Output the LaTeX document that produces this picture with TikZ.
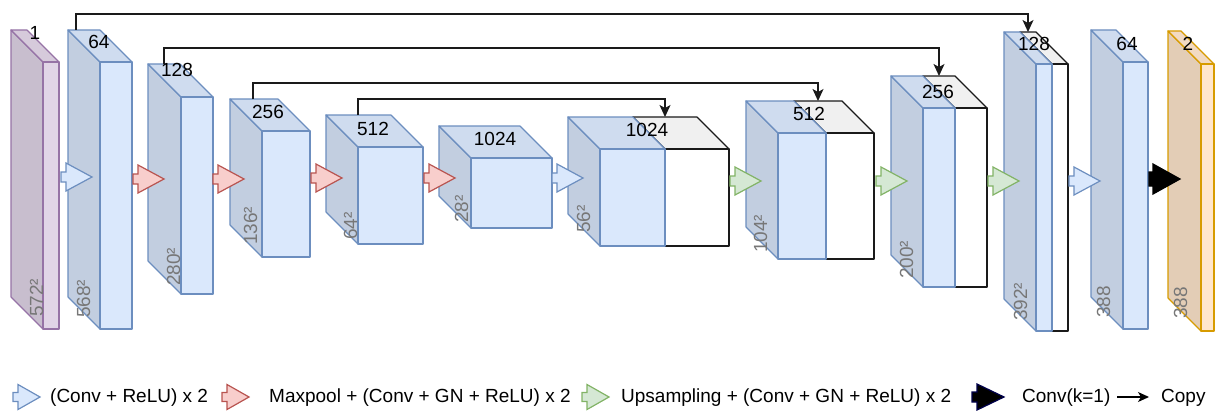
\documentclass[tikz,border=0pt]{standalone}
\usepackage{fontspec}
\setmainfont{Liberation Sans}
\usetikzlibrary{arrows.meta}
\definecolor{bfront}{HTML}{DAE8FC}
\definecolor{bstroke}{HTML}{6C8EBF}
\definecolor{pfront}{HTML}{E1D5E7}
\definecolor{pstroke}{HTML}{9673A6}
\definecolor{ofront}{HTML}{FFE6CC}
\definecolor{ostroke}{HTML}{D79B00}
\definecolor{rfill}{HTML}{F8CECC}
\definecolor{rstroke}{HTML}{B85450}
\definecolor{gfill}{HTML}{D5E8D4}
\definecolor{gstroke}{HTML}{82B366}
\definecolor{wtop}{HTML}{F0F0F0}
\definecolor{dimtext}{HTML}{777777}
\definecolor{lineblk}{HTML}{1A1A1A}
\newcommand{\ucube}[9]{%
  \filldraw[fill=#8,draw=#9,blk] (#1-#5,#2-#5) -- (#1,#2) -- (#1,#4) -- (#1-#5,#4-#5) -- cycle;
  \filldraw[fill=#7,draw=#9,blk] (#1-#5,#2-#5) -- (#3-#5,#2-#5) -- (#3,#2) -- (#1,#2) -- cycle;
  \filldraw[fill=#6,draw=#9,blk] (#1,#2) rectangle (#3,#4);
}
% fat arrow: tip x, tip y, fill, stroke
\newcommand{\farrow}[4]{%
  \filldraw[fill=#3,draw=#4,farr] (#1-31,#2-5) -- (#1-26,#2-5) -- (#1-26,#2-14) -- (#1,#2)
    -- (#1-26,#2+14) -- (#1-26,#2+5) -- (#1-31,#2+5) -- cycle;
}
% legend arrow: start x, y, fill, stroke
\newcommand{\larrow}[4]{%
  \filldraw[fill=#3,draw=#4,farr] (#1,#2-4.5) -- (#1+5,#2-4.5) -- (#1+5,#2-12.5) -- (#1+27,#2)
    -- (#1+5,#2+12.5) -- (#1+5,#2+4.5) -- (#1,#2+4.5) -- cycle;
}
\tikzset{
  blk/.style={line width=1.2pt, line join=round},
  farr/.style={line width=1.2pt, line join=miter},
  lab/.style={font=\fontsize{19}{22}\selectfont, inner sep=0pt, text=black},
  dimlab/.style={lab, text=dimtext, rotate=90, anchor=base west},
  skip/.style={line width=1.3pt, draw=lineblk, -{Stealth[length=12pt,width=11pt,inset=3pt]}},
}
\begin{document}
\begin{tikzpicture}[x=1pt,y=-1pt]
\useasboundingbox (0,0) rectangle (1215,412);
% encoder blocks
\ucube{43}{62}{59}{329}{32}{pfront}{pfront!95!black}{pfront!89!black}{pstroke}
\ucube{100}{62}{132}{329}{32}{bfront}{bfront!95!black}{bfront!89!black}{bstroke}
\ucube{181}{97}{213}{294}{33}{bfront}{bfront!95!black}{bfront!89!black}{bstroke}
\ucube{262}{131}{310}{257}{32}{bfront}{bfront!95!black}{bfront!89!black}{bstroke}
\ucube{358}{147}{423}{244}{32}{bfront}{bfront!95!black}{bfront!89!black}{bstroke}
\ucube{471}{158}{552}{228}{32}{bfront}{bfront!95!black}{bfront!89!black}{bstroke}
% decoder blocks (white concatenated part behind)
\ucube{665}{149}{729}{246}{32}{white}{wtop}{white}{lineblk}
\ucube{600}{149}{665}{246}{32}{bfront}{bfront!95!black}{bfront!89!black}{bstroke}
\ucube{826}{133}{874}{259}{32}{white}{wtop}{white}{lineblk}
\ucube{778}{133}{826}{259}{32}{bfront}{bfront!95!black}{bfront!89!black}{bstroke}
\ucube{955}{108}{987}{287}{32}{white}{wtop}{white}{lineblk}
\ucube{923}{108}{955}{287}{32}{bfront}{bfront!95!black}{bfront!89!black}{bstroke}
\ucube{1052}{64}{1068}{331}{32}{white}{wtop}{white}{lineblk}
\ucube{1036}{64}{1052}{331}{32}{bfront}{bfront!95!black}{bfront!89!black}{bstroke}
\ucube{1123}{62}{1148}{329}{32}{bfront}{bfront!95!black}{bfront!89!black}{bstroke}
\ucube{1201}{64}{1214}{331}{33}{ofront}{ofront!95!black}{ofront!89!black}{ostroke}
% fat arrows
\farrow{92}{177}{bfront}{bstroke}
\farrow{164}{179}{rfill}{rstroke}
\farrow{244}{179}{rfill}{rstroke}
\farrow{342}{178}{rfill}{rstroke}
\farrow{455}{178}{rfill}{rstroke}
\farrow{583}{178}{bfront}{bstroke}
\farrow{761}{181}{gfill}{gstroke}
\farrow{907}{181}{gfill}{gstroke}
\farrow{1019}{181}{gfill}{gstroke}
\farrow{1100}{181}{bfront}{bstroke}
\filldraw[fill=black,draw=black,farr] (1149,172) -- (1153,172) -- (1153,164) -- (1180,179)
  -- (1153,194) -- (1153,186) -- (1149,186) -- cycle;
% channel labels
\node[lab] (c1) at (35,33) {1};
\node[lab] (c2) at (99,42) {64};
\node[lab] (c3) at (177,70) {128};
\node[lab] (c4) at (268,112) {256};
\node[lab] (c5) at (373,128.5) {512};
\node[lab] (c6) at (495,139) {1024};
\node[lab] (c7) at (647,130) {1024};
\node[lab] (c8) at (809,114) {512};
\node[lab] (c9) at (938,92) {256};
\node[lab] (c10) at (1034,44) {128};
\node[lab] (c11) at (1127,44) {64};
\node[lab] (c12) at (1188,44) {2};
% size labels
\node[dimlab] (d1) at (43,317) {572²};
\node[dimlab] (d2) at (90,318) {568²};
\node[dimlab] (d3) at (180,286) {280²};
\node[dimlab] (d4) at (257,245) {136²};
\node[dimlab] (d5) at (357,240) {64²};
\node[dimlab] (d6) at (468,223) {28²};
\node[dimlab] (d7) at (590,233) {56²};
\node[dimlab] (d8) at (767,253) {104²};
\node[dimlab] (d9) at (913,279) {200²};
\node[dimlab] (d10) at (1027,321) {392²};
\node[dimlab] (d11) at (1110,318) {388};
\node[dimlab] (d12) at (1187,319) {388};
% skip connections
\coordinate (s1) at (76,30);   \coordinate (e1) at (1028,32);
\coordinate (s2) at (164,64);  \coordinate (e2) at (939,76);
\coordinate (s3) at (253,99);  \coordinate (e3) at (818,101);
\coordinate (s4) at (358,115); \coordinate (e4) at (665,117);
\draw[skip] (s1) -- ++(0,-16) -| (e1);
\draw[skip] (s2) -- ++(0,-16) -| (e2);
\draw[skip] (s3) -- ++(0,-16) -| (e3);
\draw[skip] (s4) -- ++(0,-16) -| (e4);
% legend
\larrow{13}{397}{bfront}{bstroke}
\node[lab, anchor=west] (l1) at (50,398) {(Conv + ReLU) x 2};
\larrow{222}{397}{rfill}{rstroke}
\node[lab, anchor=west] (l2) at (269,398) {Maxpool + (Conv + GN + ReLU) x 2};
\larrow{582}{397}{gfill}{gstroke}
\node[lab, anchor=west] (l3) at (621,398) {Upsampling + (Conv + GN + ReLU) x 2};
\filldraw[fill=black,draw=black!70!blue,farr] (972,392) -- (977,392) -- (977,384) -- (1004,397)
  -- (977,410) -- (977,402) -- (972,402) -- cycle;
\node[lab, anchor=west] (l4) at (1022,398) {Conv(k=1)};
\coordinate (ca) at (1117,397); \coordinate (cb) at (1149,397);
\draw[line width=1.3pt, -{Stealth[length=11pt,width=10pt,inset=3pt]}] (ca) -- (cb);
\node[lab, anchor=west] (l5) at (1161,398) {Copy};
\end{tikzpicture}
\end{document}
